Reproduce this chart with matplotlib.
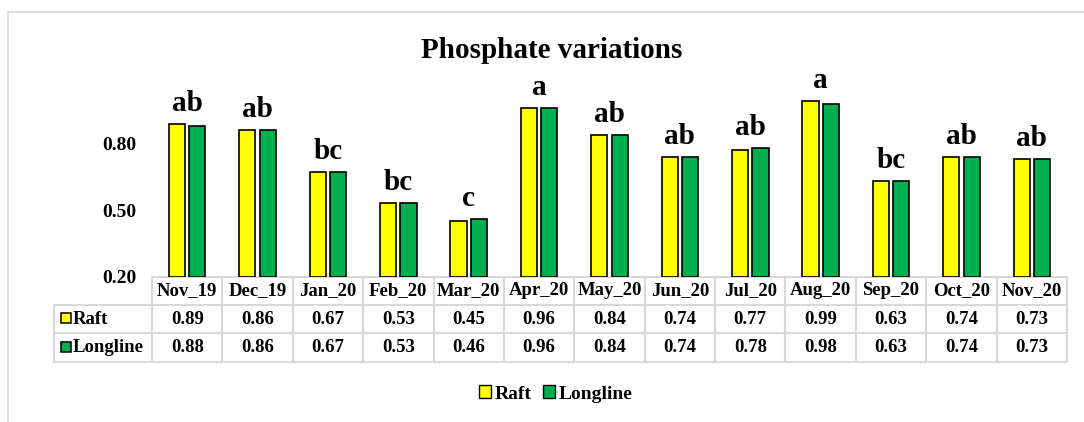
import matplotlib
matplotlib.use('Agg')
import matplotlib.pyplot as plt
from matplotlib.patches import Patch
from matplotlib.lines import Line2D
import numpy as np

# data
months = ['Nov_19', 'Dec_19', 'Jan_20', 'Feb_20', 'Mar_20', 'Apr_20', 'May_20',
          'Jun_20', 'Jul_20', 'Aug_20', 'Sep_20', 'Oct_20', 'Nov_20']
raft = [0.89, 0.86, 0.67, 0.53, 0.45, 0.96, 0.84, 0.74, 0.77, 0.99, 0.63, 0.74, 0.73]
longline = [0.88, 0.86, 0.67, 0.53, 0.46, 0.96, 0.84, 0.74, 0.78, 0.98, 0.63, 0.74, 0.73]
letters = ['ab', 'ab', 'bc', 'bc', 'c', 'a', 'ab', 'ab', 'ab', 'a', 'bc', 'ab', 'ab']
yticks = [0.20, 0.50, 0.80]

plt.rcParams['font.family'] = ['Liberation Serif', 'DejaVu Serif']
plt.rcParams['font.weight'] = 'bold'

YELLOW = '#FFFF00'
GREEN = '#00B050'
GRID = '#d9d9d9'

W, H = 1084, 422
fig = plt.figure(figsize=(W / 100, H / 100), dpi=100)

# axes placed in pixel terms
ax_left, ax_right = 152, 1067
ax_bottom, ax_top = 276.7, 76.9
ax = fig.add_axes([ax_left / W, 1 - ax_bottom / H,
                   (ax_right - ax_left) / W, (ax_bottom - ax_top) / H])

x = np.arange(len(months))
bw = 0.23
off = 0.145
ax.bar(x - off, [v - 0.2 for v in raft], bw, bottom=0.2, color=YELLOW,
       edgecolor='black', linewidth=1.2, label='Raft')
ax.bar(x + off, [v - 0.2 for v in longline], bw, bottom=0.2, color=GREEN,
       edgecolor='black', linewidth=1.2, label='Longline')

for i, lab in enumerate(letters):
    top = max(raft[i], longline[i])
    ax.annotate(lab, (x[i], top), xytext=(0, 5), textcoords='offset points',
                ha='center', va='bottom', fontsize=21, fontweight='bold',
                annotation_clip=False)

ax.set_xlim(-0.5, len(months) - 0.5)
ax.set_ylim(0.2, 1.1)
ax.set_yticks(yticks)
ax.set_yticklabels(['%.2f' % t for t in yticks], fontsize=14, fontweight='bold')
ax.tick_params(axis='y', length=0, pad=11)
ax.set_xticks([])
for s in ax.spines.values():
    s.set_visible(False)

# data table under the bars
cell_text = [[''] + months,
             ['Raft'] + ['%.2f' % v for v in raft],
             ['Longline'] + ['%.2f' % v for v in longline]]
ax_w = ax_right - ax_left
ax_h = ax_bottom - ax_top
tab_left = 54
tab_top, tab_bottom = 276.7, 361.7
lab_w = (ax_left - tab_left) / ax_w
col_w = 1.0 / len(months)
tbl = ax.table(cellText=cell_text, cellLoc='center',
               colWidths=[lab_w] + [col_w] * len(months),
               bbox=[-lab_w, -(tab_bottom - ax_bottom) / ax_h,
                     1 + lab_w, (tab_bottom - tab_top) / ax_h])
tbl.auto_set_font_size(False)
for (r, c), cell in tbl.get_celld().items():
    cell.set_edgecolor(GRID)
    cell.set_linewidth(1.5)
    cell.get_text().set_fontsize(13.5)
    cell.get_text().set_fontweight('bold')
    if r == 0 and c == 0:
        cell.visible_edges = ''
    if c == 0 and r > 0:
        cell.get_text().set_ha('left')
        cell.PAD = 0.19

# small legend keys inside the row label cells
for r, col in [(1, YELLOW), (2, GREEN)]:
    yc = 1 - (317.5 if r == 1 else 346.5) / H
    fig.add_artist(Line2D([65.5 / W], [yc], marker='s', markersize=7.5,
                          markerfacecolor=col, markeredgecolor='black',
                          markeredgewidth=1.1, linestyle='none'))

# title and legend
fig.text(552 / W, 1 - 50 / H, 'Phosphate variations', ha='center', va='center',
         fontsize=21, fontweight='bold')
handles = [Patch(facecolor=YELLOW, edgecolor='black', linewidth=1.0),
           Patch(facecolor=GREEN, edgecolor='black', linewidth=1.0)]
fig.legend(handles, ['Raft', 'Longline'], loc='center',
           bbox_to_anchor=(556 / W, 1 - 394 / H), ncol=2, frameon=False,
           prop={'size': 14, 'weight': 'bold'}, handlelength=0.6,
           handleheight=0.6, handletextpad=0.2, columnspacing=0.6)

# light chart-area frame (cropped on right and bottom)
fig.add_artist(Line2D([8 / W, 1], [1 - 12 / H, 1 - 12 / H], color=GRID, linewidth=1.2))
fig.add_artist(Line2D([8 / W, 8 / W], [0, 1 - 12 / H], color=GRID, linewidth=1.2))

fig.savefig('out.png', dpi=100)
